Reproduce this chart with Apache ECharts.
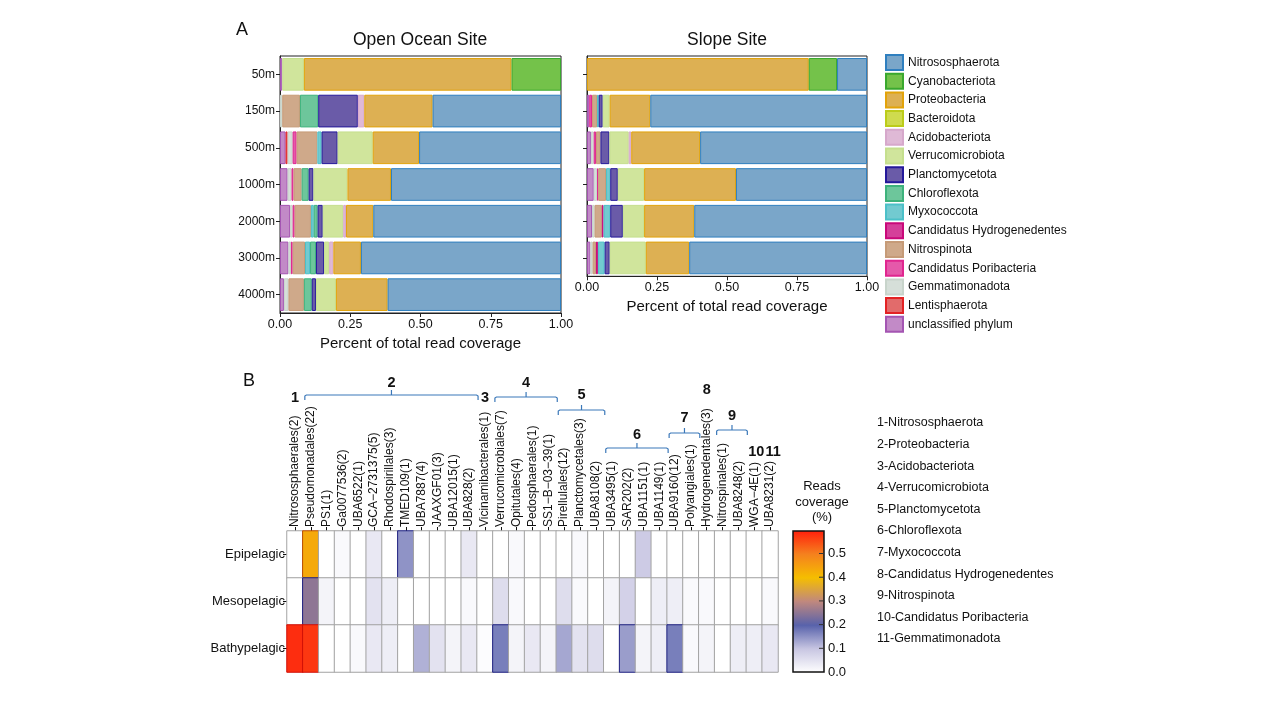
<!DOCTYPE html>
<html><head><meta charset="utf-8">
<script src="https://cdn.jsdelivr.net/npm/echarts@6/dist/echarts.min.js"></script>
<style>html,body{margin:0;padding:0;background:#fff;}#c{width:1279px;height:715px;}</style>
</head><body><div id="c"></div>
<script>
// ---------- Panel A data ----------
const phyla = ['Nitrososphaerota','Cyanobacteriota','Proteobacteria','Bacteroidota','Acidobacteriota','Verrucomicrobiota','Planctomycetota','Chloroflexota','Myxococcota','Candidatus Hydrogenedentes','Nitrospinota','Candidatus Poribacteria','Gemmatimonadota','Lentisphaerota','unclassified phylum'];
const fillColors = ['#7aa6c9','#74c24a','#ddb053','#cfdb4e','#dfb9d6','#d0e59c','#6a5ba8','#6dc69b','#72cad0','#d53f9a','#cfa98a','#e559aa','#d6dfd9','#e26b6b','#c28ac7'];
const borderColors = ['#2f7fbf','#3aa82e','#e2a30a','#bccc1a','#d6a8cb','#c5df8e','#24189a','#3db27c','#4cc0c8','#c9087a','#c69b78','#e0268f','#c8d4cb','#e32224','#a455b2'];
const depthsOpen = ['50m','150m','500m','1000m','2000m','3000m','4000m'];
const depthsSlope = ['50m','150m','500m','1000m','2000m','3000m'];
// values per depth in phyla order
const open50   = [0, 0.176, 0.739, 0, 0, 0.077, 0, 0, 0, 0, 0, 0, 0, 0, 0.008];
const open150  = [0.457, 0, 0.243, 0, 0.023, 0, 0.141, 0.065, 0, 0, 0.063, 0, 0.008, 0, 0];
const open500  = [0.505, 0, 0.165, 0, 0, 0.125, 0.057, 0, 0.015, 0, 0.074, 0.014, 0.018, 0.007, 0.020];
const open1000 = [0.605, 0, 0.155, 0, 0, 0.121, 0.017, 0.025, 0, 0, 0.029, 0.007, 0.014, 0, 0.027];
const open2000 = [0.668, 0, 0.097, 0, 0.010, 0.073, 0.018, 0.014, 0.010, 0, 0.058, 0.007, 0.009, 0, 0.036];
const open3000 = [0.712, 0, 0.098, 0, 0.015, 0.018, 0.029, 0.021, 0.018, 0, 0.044, 0.006, 0.009, 0, 0.030];
const open4000 = [0.617, 0, 0.184, 0, 0, 0.071, 0.015, 0.028, 0, 0, 0.055, 0, 0.016, 0, 0.014];
const slope50   = [0.107, 0.101, 0.792, 0, 0, 0, 0, 0, 0, 0, 0, 0, 0, 0, 0];
const slope150  = [0.774, 0, 0.145, 0, 0, 0.025, 0.014, 0, 0.006, 0, 0.018, 0.010, 0, 0, 0.008];
const slope500  = [0.596, 0, 0.246, 0, 0.009, 0.069, 0.032, 0, 0, 0, 0.016, 0.008, 0.010, 0, 0.014];
const slope1000 = [0.468, 0, 0.328, 0, 0, 0.094, 0.027, 0, 0.015, 0, 0.028, 0.004, 0.012, 0, 0.024];
const slope2000 = [0.617, 0, 0.179, 0, 0, 0.076, 0.045, 0, 0.024, 0.006, 0.026, 0, 0.009, 0, 0.018];
const slope3000 = [0.635, 0, 0.155, 0, 0, 0.129, 0.018, 0, 0.024, 0.007, 0.012, 0, 0.008, 0, 0.012];

// ---------- Panel B data ----------
const orders = ['Nitrososphaerales(2)','Pseudomonadales(22)','PS1(1)','Ga0077536(2)','UBA6522(1)','GCA−2731375(5)','Rhodospirillales(3)','TMED109(1)','UBA7887(4)','JAAXGF01(3)','UBA12015(1)','UBA828(2)','Vicinamibacterales(1)','Verrucomicrobiales(7)','Opitutales(4)','Pedosphaerales(1)','SS1−B−03−39(1)','Pirellulales(12)','Planctomycetales(3)','UBA8108(2)','UBA3495(1)','SAR202(2)','UBA1151(1)','UBA1149(1)','UBA9160(12)','Polyangiales(1)','Hydrogenedentales(3)','Nitrospinales(1)','UBA8248(2)','WGA−4E(1)','UBA8231(2)'];
const zones = ['Epipelagic','Mesopelagic','Bathypelagic'];
const epiValues   = [0, 0.43, 0, 0.01, 0, 0.04, 0, 0.15, 0, 0, 0, 0.04, 0, 0, 0.01, 0, 0, 0, 0.01, 0, 0, 0, 0.09, 0, 0, 0, 0, 0, 0, 0, 0];
const mesoValues  = [0, 0.25, 0.02, 0, 0, 0.05, 0.03, 0, 0, 0, 0, 0.01, 0, 0.06, 0.01, 0, 0, 0.06, 0.01, 0, 0.02, 0.08, 0, 0.03, 0.03, 0.01, 0.01, 0, 0, 0, 0.01];
const bathyValues = [0.58, 0.57, 0, 0, 0.01, 0.04, 0.03, 0, 0.12, 0.05, 0.02, 0.04, 0.005, 0.17, 0.02, 0.04, 0.02, 0.13, 0.05, 0.06, 0, 0.14, 0.02, 0.03, 0.17, 0.01, 0.02, 0, 0.03, 0.03, 0.04];
const groupNumbers = ['1','2','3','4','5','6','7','8','9','10','11'];
const groupStart = [0, 1, 12, 13, 17, 20, 24, 26, 27, 29, 30];
const groupEnd   = [0, 11, 12, 16, 19, 23, 25, 26, 28, 29, 30];
const groupLegend = ['1-Nitrososphaerota','2-Proteobacteria','3-Acidobacteriota','4-Verrucomicrobiota','5-Planctomycetota','6-Chloroflexota','7-Myxococcota','8-Candidatus Hydrogenedentes','9-Nitrospinota','10-Candidatus Poribacteria','11-Gemmatimonadota'];
const heatColors = ['#ffffff','#c8c6e2','#5862ab','#c0887e','#f5be00','#f5801e','#ff1e0c'];
const colorbarMax = 0.595;
const colorbarTicks = [0.1, 0.2, 0.3, 0.4, 0.5];

// ---------- layout (styles / positions) ----------
const bracketY = [null, 395, null, 397, 410, 448, 433, null, 430, null, null];
const numberY  = [398, 383, 398, 383, 395, 435, 418, 390, 416, 452, 452];
const FONT = "'Liberation Sans', Arial, sans-serif";

const chart = echarts.init(document.getElementById('c'), null, {renderer: 'canvas'});

const openRows = [open50, open150, open500, open1000, open2000, open3000, open4000];
const slopeRows = [slope50, slope150, slope500, slope1000, slope2000, slope3000];

const series = [];
const stackOrder = phyla.map((_, i) => i).reverse();
[['open', openRows, 0], ['slope', slopeRows, 1]].forEach(([stack, rows, ax]) => {
  stackOrder.forEach(p => {
    series.push({
      type: 'bar', name: phyla[p], stack: stack,
      xAxisIndex: ax, yAxisIndex: ax,
      barCategoryGap: '11%',
      itemStyle: {color: fillColors[p], borderColor: borderColors[p], borderWidth: 1},
      emphasis: {disabled: true},
      data: rows.map(r => r[p] > 0 ? r[p] : '-')
    });
  });
});

const heatData = [];
[epiValues, mesoValues, bathyValues].forEach((row, r) => {
  row.forEach((v, c) => {
    let bc = '#a3a3a3';
    if (v >= 0.5) bc = '#d01008';
    else if (v >= 0.35) bc = '#b84a00';
    else if (v >= 0.14) bc = '#1e2080';
    heatData.push({value: [c, r, v], itemStyle: {borderColor: bc}});
  });
});
const heatIndex = series.length;
series.push({
  type: 'heatmap', xAxisIndex: 2, yAxisIndex: 2,
  data: heatData,
  itemStyle: {borderColor: '#a3a3a3', borderWidth: 1},
  emphasis: {disabled: true}
});
series.push({
  type: 'custom', xAxisIndex: 3, yAxisIndex: 3, z: 1,
  data: [[0, colorbarMax]],
  renderItem: (params, api) => {
    const p0 = api.coord([0, 0]);
    const p1 = api.coord([1, api.value(1)]);
    const children = [{
      type: 'rect',
      shape: {x: p0[0], y: p1[1], width: p1[0] - p0[0], height: p0[1] - p1[1]},
      style: {
        fill: new echarts.graphic.LinearGradient(0, 1, 0, 0,
          heatColors.map((c, i) => ({offset: i / (heatColors.length - 1), color: c}))),
        stroke: '#111', lineWidth: 1.5
      }
    }];
    colorbarTicks.forEach(t => {
      const p = api.coord([1, t]);
      children.push({type: 'line', shape: {x1: p[0] - 5, y1: p[1], x2: p[0], y2: p[1]},
        style: {stroke: '#333', lineWidth: 1}});
    });
    return {type: 'group', children: children};
  }
});

const barXAxis = (gi) => ({
  type: 'value', gridIndex: gi, min: 0, max: 1, interval: 0.25,
  axisLine: {show: true, lineStyle: {color: '#222'}},
  axisTick: {show: true, length: 4, lineStyle: {color: '#222'}},
  splitLine: {show: false},
  axisLabel: {formatter: v => v.toFixed(2), fontSize: 12.5, color: '#111', margin: 5, fontFamily: FONT},
  name: 'Percent of total read coverage', nameLocation: 'middle', nameGap: 23,
  nameTextStyle: {fontSize: 15, color: '#111', fontFamily: FONT}
});

const option = {
  animation: false,
  backgroundColor: '#fff',
  textStyle: {fontFamily: FONT},
  grid: [
    {left: 280, top: 56, width: 281, height: 257, show: true, borderColor: '#222', borderWidth: 1, backgroundColor: 'transparent'},
    {left: 587, top: 56, width: 280, height: 220.3, show: true, borderColor: '#222', borderWidth: 1, backgroundColor: 'transparent'},
    {left: 287, top: 531, width: 491, height: 141},
    {left: 793, top: 531, width: 31, height: 141}
  ],
  xAxis: [
    barXAxis(0), barXAxis(1),
    {type: 'category', gridIndex: 2, position: 'top', data: orders,
     axisLine: {show: false},
     axisTick: {show: true, alignWithLabel: true, length: 4, lineStyle: {color: '#111'}},
     axisLabel: {rotate: -90, fontSize: 12, color: '#111', margin: 4, interval: 0, fontFamily: FONT}},
    {type: 'value', gridIndex: 3, min: 0, max: 1, show: false}
  ],
  yAxis: [
    {type: 'category', gridIndex: 0, data: depthsOpen, inverse: true,
     axisLine: {show: true, lineStyle: {color: '#222'}},
     axisTick: {show: true, alignWithLabel: true, length: 4, lineStyle: {color: '#222'}},
     axisLabel: {fontSize: 12, color: '#111', margin: 5, fontFamily: FONT}},
    {type: 'category', gridIndex: 1, data: depthsSlope, inverse: true,
     axisLine: {show: true, lineStyle: {color: '#222'}},
     axisTick: {show: true, alignWithLabel: true, length: 4, lineStyle: {color: '#222'}},
     axisLabel: {show: false}},
    {type: 'category', gridIndex: 2, data: zones, inverse: true,
     axisLine: {show: false},
     axisTick: {show: true, alignWithLabel: true, length: 4, lineStyle: {color: '#111'}},
     axisLabel: {fontSize: 13, color: '#111', margin: 2, fontFamily: FONT}},
    {type: 'value', gridIndex: 3, min: 0, max: colorbarMax, interval: 0.1, position: 'right',
     axisLine: {show: false}, splitLine: {show: false},
     axisTick: {show: false},
     axisLabel: {formatter: v => v.toFixed(1), fontSize: 13, color: '#111', margin: 4, showMaxLabel: false, fontFamily: FONT}}
  ],
  legend: {
    orient: 'vertical', left: 880, top: 49,
    itemWidth: 17, itemHeight: 15, itemGap: 1.7,
    icon: 'rect',
    data: phyla,
    textStyle: {fontSize: 12, lineHeight: 14, color: '#111', fontFamily: FONT},
    selectedMode: false
  },
  visualMap: {
    type: 'continuous', show: false, min: 0, max: colorbarMax, seriesIndex: heatIndex,
    inRange: {color: heatColors}
  },
  series: series
};
chart.setOption(option);

// ---------- annotations ----------
const g = [];
const txt = (x, y, text, size, align, weight) => ({
  type: 'text', x: x, y: y, silent: true,
  style: {text: text, fontSize: size, fontFamily: FONT, fill: '#111', textAlign: align || 'center', textVerticalAlign: 'middle', fontWeight: weight || 'normal'}
});
g.push(txt(242, 30, 'A', 18));
g.push(txt(420, 40, 'Open Ocean Site', 17.5));
g.push(txt(727, 40, 'Slope Site', 17.5));
g.push(txt(249, 381, 'B', 18));
g.push({type: 'text', x: 822, y: 502, silent: true,
  style: {text: 'Reads\ncoverage\n(%)', fontSize: 13, lineHeight: 15.5, fontFamily: FONT, fill: '#111', textAlign: 'center', textVerticalAlign: 'middle'}});
groupLegend.forEach((t, i) => g.push(txt(877, 423 + i * 21.6, t, 12.5, 'left')));

const c0 = chart.convertToPixel({xAxisIndex: 2}, 0);
const c1 = chart.convertToPixel({xAxisIndex: 2}, 1);
const cw = c1 - c0;
groupNumbers.forEach((n, i) => {
  const xs = chart.convertToPixel({xAxisIndex: 2}, groupStart[i]);
  const xe = chart.convertToPixel({xAxisIndex: 2}, groupEnd[i]);
  const xm = (xs + xe) / 2;
  if (bracketY[i] != null) {
    const y = bracketY[i];
    const x0 = xs - cw / 2 + 2, x1 = xe + cw / 2 + 1;
    g.push({type: 'polyline', silent: true,
      shape: {points: [[x0, y + 5], [x0, y + 1], [x0 + 1.5, y], [x1 - 1.5, y], [x1, y + 1], [x1, y + 5]]},
      style: {stroke: '#3b78b9', lineWidth: 1.2, fill: null}});
    g.push({type: 'line', silent: true,
      shape: {x1: (x0 + x1) / 2, y1: y, x2: (x0 + x1) / 2, y2: y - 5},
      style: {stroke: '#3b78b9', lineWidth: 1.2}});
    g.push(txt((x0 + x1) / 2, numberY[i], n, 14.5, 'center', 'bold'));
  } else {
    g.push(txt(xm + (n === '10' ? 2 : n === '11' ? 3 : 0), numberY[i], n, 14.5, 'center', 'bold'));
  }
});
chart.setOption({graphic: g});
</script>
</body></html>
